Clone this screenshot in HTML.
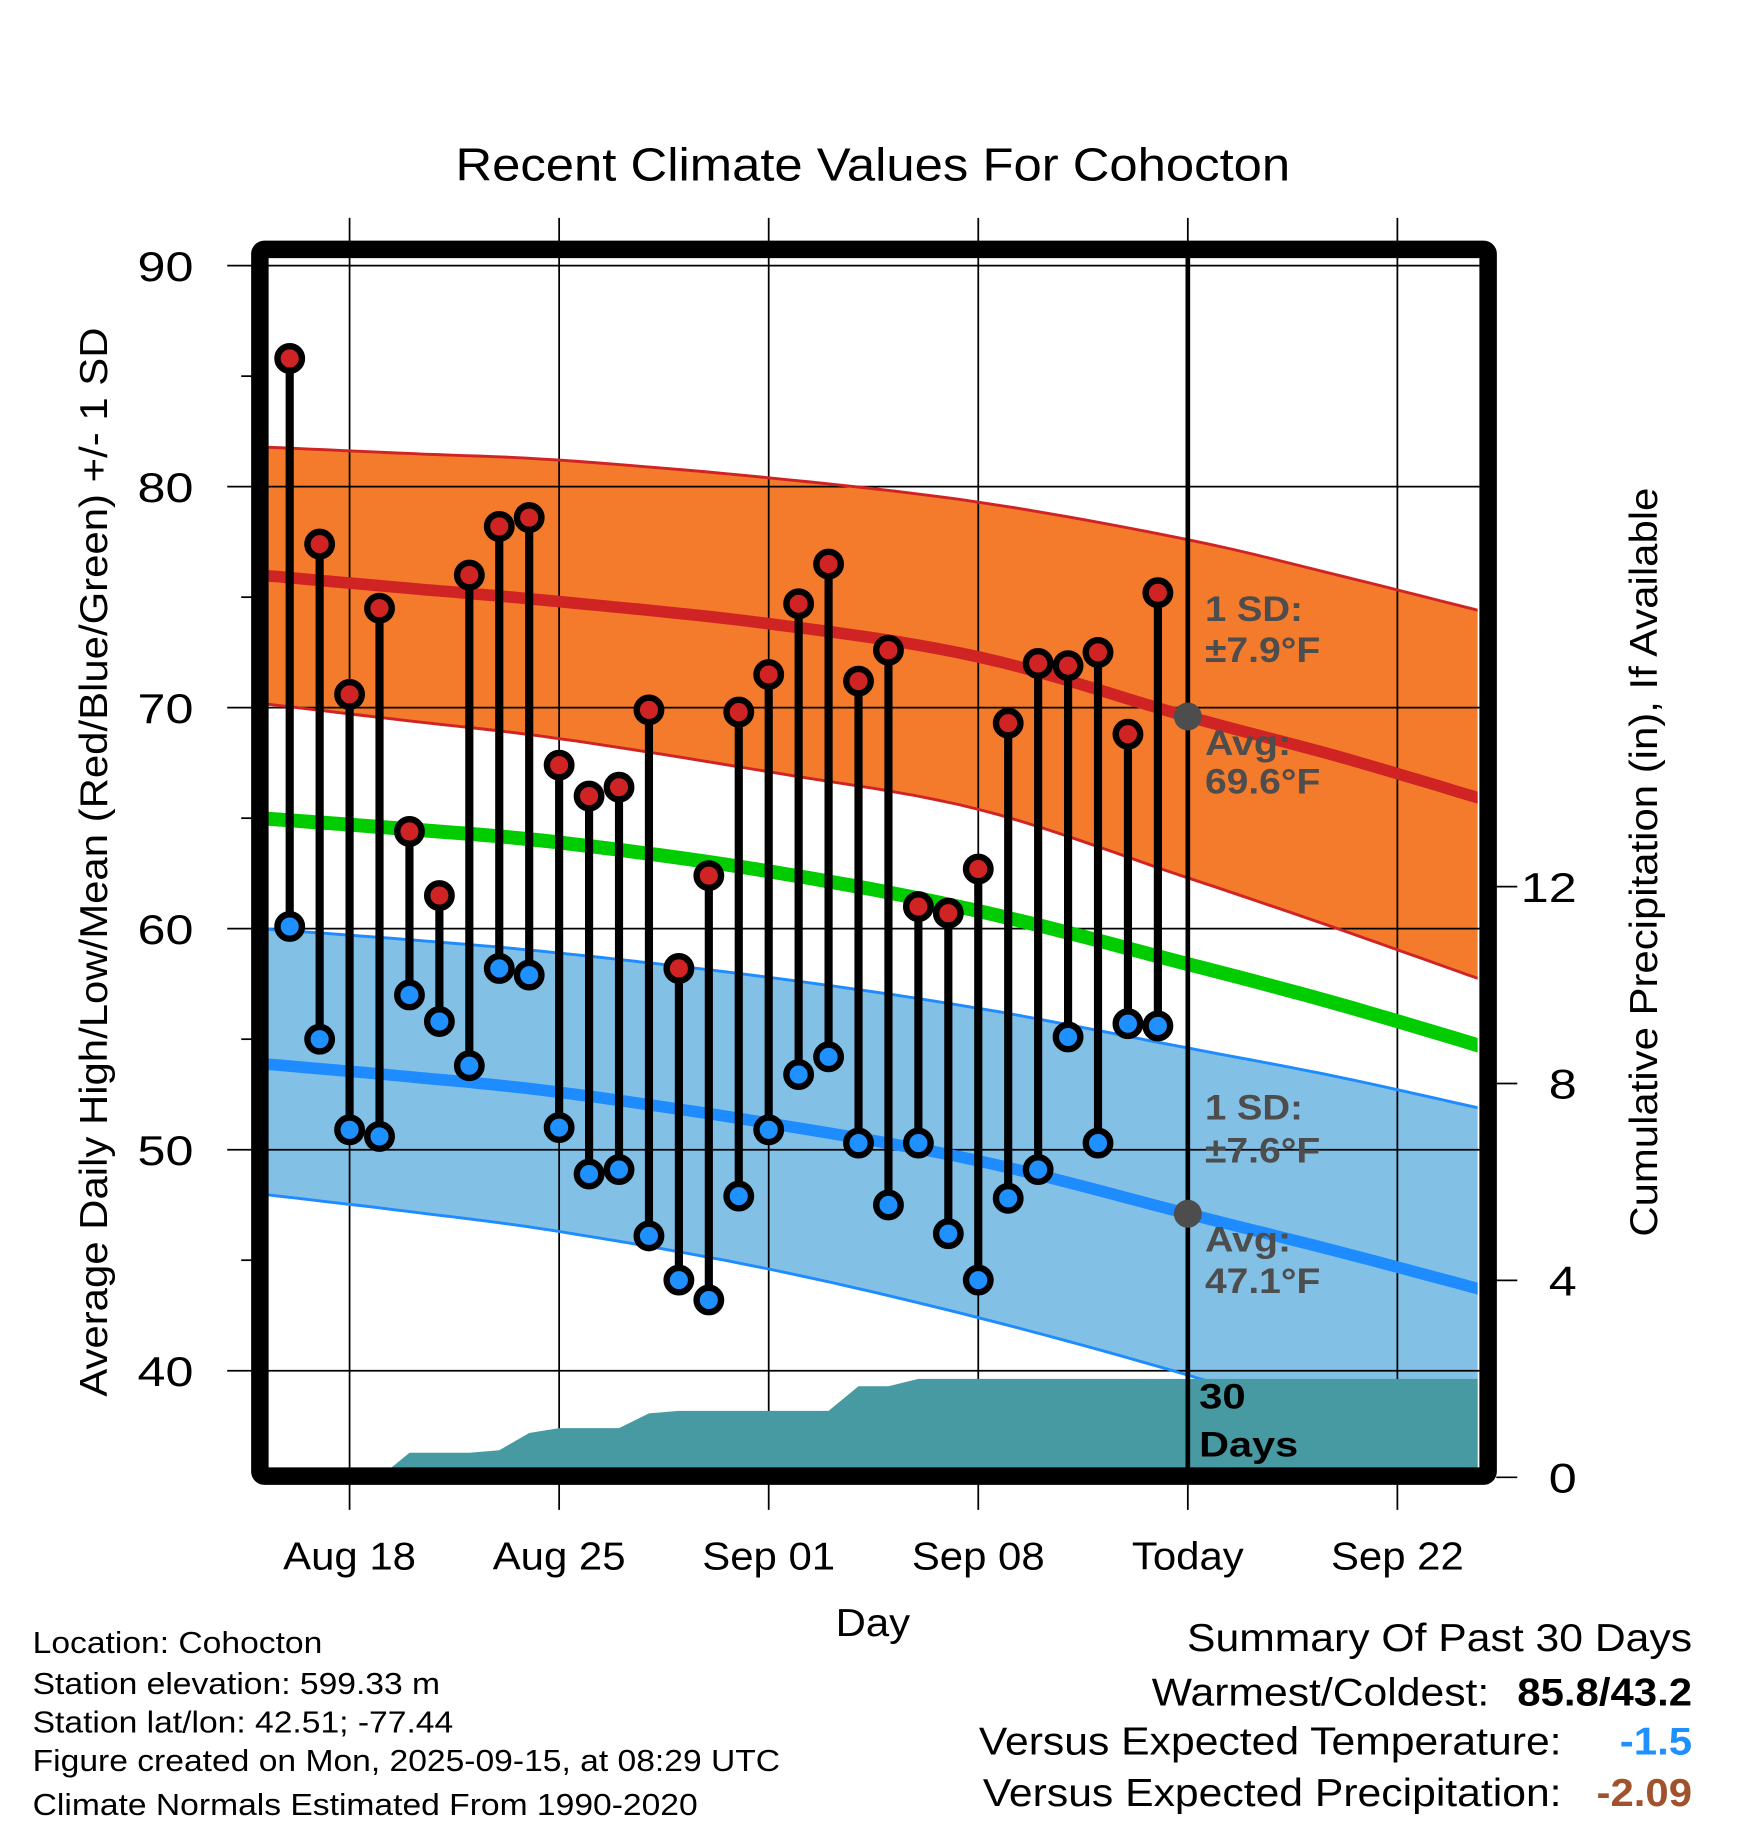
<!DOCTYPE html>
<html><head><meta charset="utf-8"><style>
html,body{margin:0;padding:0;background:#fff;}
svg{display:block;font-family:"Liberation Sans",Arial,sans-serif;}
</style></head><body>
<svg id="chart" width="1748" height="1828" viewBox="0 0 1500 1569" preserveAspectRatio="none" xmlns="http://www.w3.org/2000/svg">
<defs><clipPath id="pa"><rect x="230" y="221" width="1038" height="1039"/></clipPath></defs>
<text class="s" x="749" y="155" font-size="40" text-anchor="middle">Recent Climate Values For Cohocton</text>
<g id="bands" clip-path="url(#pa)"></g>
<g id="grid"></g>
<g id="lines" clip-path="url(#pa)"></g>
<g id="precip" clip-path="url(#pa)"></g>
<g id="ann"></g>
<g id="stems"></g>
<rect x="223" y="214" width="1054" height="1053" fill="none" stroke="#000" stroke-width="15" rx="4"/>
<g id="axes"></g>
<text class="s" x="749" y="1404" font-size="33" text-anchor="middle">Day</text>
<text class="s" transform="translate(92,740) rotate(-90)" font-size="33" text-anchor="middle">Average Daily High/Low/Mean (Red/Blue/Green) +/- 1 SD</text>
<text class="s" transform="translate(1422,740) rotate(-90)" font-size="33" text-anchor="middle">Cumulative Precipitation (in), If Available</text>
<g font-size="26">
<text class="s" data-f="1.11" x="28" y="1419">Location: Cohocton</text>
<text class="s" data-f="1.11" x="28" y="1454">Station elevation: 599.33 m</text>
<text class="s" data-f="1.11" x="28" y="1487">Station lat/lon: 42.51; -77.44</text>
<text class="s" data-f="1.11" x="28" y="1520">Figure created on Mon, 2025-09-15, at 08:29 UTC</text>
<text class="s" data-f="1.11" x="28" y="1558">Climate Normals Estimated From 1990-2020</text>
</g>
<g font-size="33">
<text class="s" data-f="1.11" x="1452" y="1417" text-anchor="end">Summary Of Past 30 Days</text>
<text class="s" data-f="1.11" x="1278" y="1464" text-anchor="end">Warmest/Coldest:</text>
<text class="s" x="1452" y="1464" text-anchor="end" font-weight="bold">85.8/43.2</text>
<text class="s" data-f="1.11" x="1340" y="1506" text-anchor="end">Versus Expected Temperature:</text>
<text class="s" x="1452" y="1506" text-anchor="end" font-weight="bold" fill="#1e90ff">-1.5</text>
<text class="s" data-f="1.11" x="1340" y="1550" text-anchor="end">Versus Expected Precipitation:</text>
<text class="s" x="1452" y="1550" text-anchor="end" font-weight="bold" fill="#a0522d">-2.09</text>
</g>
</svg>
<script>
const highs=[85.8,77.4,70.6,74.5,64.4,61.5,76.0,78.2,78.6,67.4,66.0,66.4,69.9,58.2,62.4,69.8,71.5,74.7,76.5,71.2,72.6,61.0,60.7,62.7,69.3,72.0,71.9,72.5,68.8,75.2];
const lows=[60.1,55.0,50.9,50.6,57.0,55.8,53.8,58.2,57.9,51.0,48.9,49.1,46.1,44.1,43.2,47.9,50.9,53.4,54.2,50.3,47.5,50.3,46.2,44.1,47.8,49.1,55.1,50.3,55.7,55.6];
const precip=[0,0,0,0,0.5,0.5,0.5,0.55,0.9,1.0,1.0,1.0,1.3,1.35,1.35,1.35,1.35,1.35,1.35,1.85,1.85,2.0,2.0,2.0,2.0,2.0,2.0,2.0,2.0,2.0];
const normDays=[-1,4,9,16,23,30,35,40];
const normHigh=[76.0,75.4,74.8,73.8,72.3,69.6,67.8,65.8];
const normHighUp=[81.8,81.5,81.2,80.4,79.3,77.6,76.0,74.3];
const normHighLo=[70.2,69.4,68.6,67.1,65.4,62.3,60.0,57.6];
const normMean=[65.0,64.5,63.9,62.6,60.8,58.4,56.6,54.6];
const normLow=[53.9,53.3,52.6,51.2,49.5,47.1,45.4,43.6];
const normLowUp=[60.0,59.5,58.9,57.8,56.4,54.6,53.3,51.8];
const normLowLo=[48.0,47.2,46.3,44.6,42.4,39.8,37.6,35.3];
const yTicks=[40,50,60,70,80,90];
const pTicks=[0,4,8,12];
const xLabels=["Aug 18","Aug 25","Sep 01","Sep 08","Today","Sep 22"];
const xLabelDays=[2,9,16,23,30,37];
const todayDay=30, todayHigh=69.6, todayLow=47.1;

const NS="http://www.w3.org/2000/svg";
const yT=v=>228+(90-v)*18.97;
const xD=d=>248.6+d*25.69;
const yP=p=>1268-p*42.25;
function mk(tag,attrs,parent){const e=document.createElementNS(NS,tag);for(const k in attrs)e.setAttribute(k,attrs[k]);parent.appendChild(e);return e;}
const G=id=>document.getElementById(id);
// smooth (Catmull-Rom) sampled points
function pts(arr){
  const P=normDays.map((d,i)=>[xD(d),yT(arr[i])]);const out=[];
  for(let i=0;i<P.length-1;i++){
    const p0=P[Math.max(0,i-1)],p1=P[i],p2=P[i+1],p3=P[Math.min(P.length-1,i+2)];
    for(let k=0;k<10;k++){const t=k/10,t2=t*t,t3=t2*t;
      const f=(a,b,c,d)=>0.5*((2*b)+(-a+c)*t+(2*a-5*b+4*c-d)*t2+(-a+3*b-3*c+d)*t3);
      out.push(f(p0[0],p1[0],p2[0],p3[0]).toFixed(1)+","+f(p0[1],p1[1],p2[1],p3[1]).toFixed(1));}
  }
  const L=P[P.length-1];out.push(L[0].toFixed(1)+","+L[1].toFixed(1));return out;
}

let b=mk('polygon',{points:pts(normHighUp).concat(pts(normHighLo).reverse()).join(' '),fill:'#f47a2c'},G('bands'));


b=mk('polygon',{points:pts(normLowUp).concat(pts(normLowLo).reverse()).join(' '),fill:'#82c0e6'},G('bands'));



yTicks.forEach(v=>{const l=mk('line',{x1:216,x2:1284,y1:yT(v),y2:yT(v),stroke:'#000','stroke-width':1.5},G('grid'));

});
xLabelDays.forEach(d=>{const l=mk('line',{x1:xD(d),x2:xD(d),y1:187,y2:1296,stroke:'#000','stroke-width':1.5},G('grid'));

});

function pl(arr,color,w,name){const l=mk('polyline',{points:pts(arr).join(' '),fill:'none',stroke:color,'stroke-width':w,'stroke-linejoin':'round'},G('lines'));

}
pl(normHighUp,'#d02424',2.5,'high-upper-sd-line');
pl(normHighLo,'#d02424',2.5,'high-lower-sd-line');
pl(normLowUp,'#1e8cff',2.5,'low-upper-sd-line');
pl(normLowLo,'#1e8cff',2.5,'low-lower-sd-line');
pl(normHigh,'#d02424',10,'normal-high-line');
pl(normLow,'#1e8cff',10,'normal-low-line');
pl(normMean,'#00cc00',12,'normal-mean-line');

let pp=[xD(-1)+','+yP(0)];
precip.forEach((p,i)=>pp.push(xD(i).toFixed(1)+','+yP(p).toFixed(1)));
pp.push(xD(41)+','+yP(precip[precip.length-1]));
pp.push(xD(41)+','+yP(0));
const pa=mk('polygon',{points:pp.join(' '),fill:'#4799a2'},G('precip'));



const tl=mk('line',{x1:xD(todayDay),x2:xD(todayDay),y1:221,y2:1262,stroke:'#000','stroke-width':4},G('ann'));


[todayHigh,todayLow].forEach((v,i)=>{const c=mk('circle',{cx:xD(todayDay),cy:yT(v),r:12,fill:'#4d4d4d'},G('ann'));

});
const annTexts=[["1 SD:",533],["±7.9°F",568],["Avg:",648],["69.6°F",681],["1 SD:",961],["±7.6°F",998],["Avg:",1074],["47.1°F",1110]];
annTexts.forEach((t,i)=>{const e=mk('text',{x:1034,y:t[1],'font-size':30,'font-weight':'bold',fill:'#4d4d4d',textLength:t[0].length>5?99:(t[0]=="Avg:"?74:84),lengthAdjust:'spacingAndGlyphs'},G('ann'));e.textContent=t[0];

});
[["30",1209],["Days",1250]].forEach(t=>{const e=mk('text',{x:1029,y:t[1],'font-size':30,'font-weight':'bold',fill:'#000',textLength:t[0]=="30"?40:85,lengthAdjust:'spacingAndGlyphs'},G('ann'));e.textContent=t[0];

});

highs.forEach((h,i)=>{const x=xD(i),lo=lows[i];
const s=mk('line',{x1:x,x2:x,y1:yT(h),y2:yT(lo),stroke:'#000','stroke-width':7},G('stems'));


const c1=mk('circle',{cx:x,cy:yT(h),r:10.5,fill:'#d02424',stroke:'#000','stroke-width':5.5},G('stems'));


const c2=mk('circle',{cx:x,cy:yT(lo),r:10.5,fill:'#1e90ff',stroke:'#000','stroke-width':5.5},G('stems'));

});

for(let v=40;v<=90;v+=5){const major=v%10===0;
const t=mk('line',{x1:major?195:207,x2:216,y1:yT(v),y2:yT(v),stroke:'#000','stroke-width':1.5},G('axes'));

}
yTicks.forEach(v=>{const e=mk('text',{x:166,y:yT(v)+13,'font-size':36,'text-anchor':'end',class:'s','data-f':'1.2'},G('axes'));e.textContent=v;

});
pTicks.forEach(p=>{const t=mk('line',{x1:1284,x2:1302,y1:yP(p),y2:yP(p),stroke:'#000','stroke-width':1.5},G('axes'));


const e=mk('text',{x:1353,y:yP(p)+13,'font-size':36,'text-anchor':'end',class:'s','data-f':'1.2'},G('axes'));e.textContent=p;

});
xLabels.forEach((s,i)=>{const e=mk('text',{x:xD(xLabelDays[i]),y:1347,'font-size':33,'text-anchor':'middle',class:'s'},G('axes'));e.textContent=s;

});

// widen text to match Helvetica metrics
document.querySelectorAll('text.s').forEach(t=>{const f=parseFloat(t.getAttribute('data-f')||'1.09');
const L=t.getComputedTextLength();t.setAttribute('textLength',(L*f).toFixed(1));t.setAttribute('lengthAdjust','spacingAndGlyphs');});
</script>
</body></html>
